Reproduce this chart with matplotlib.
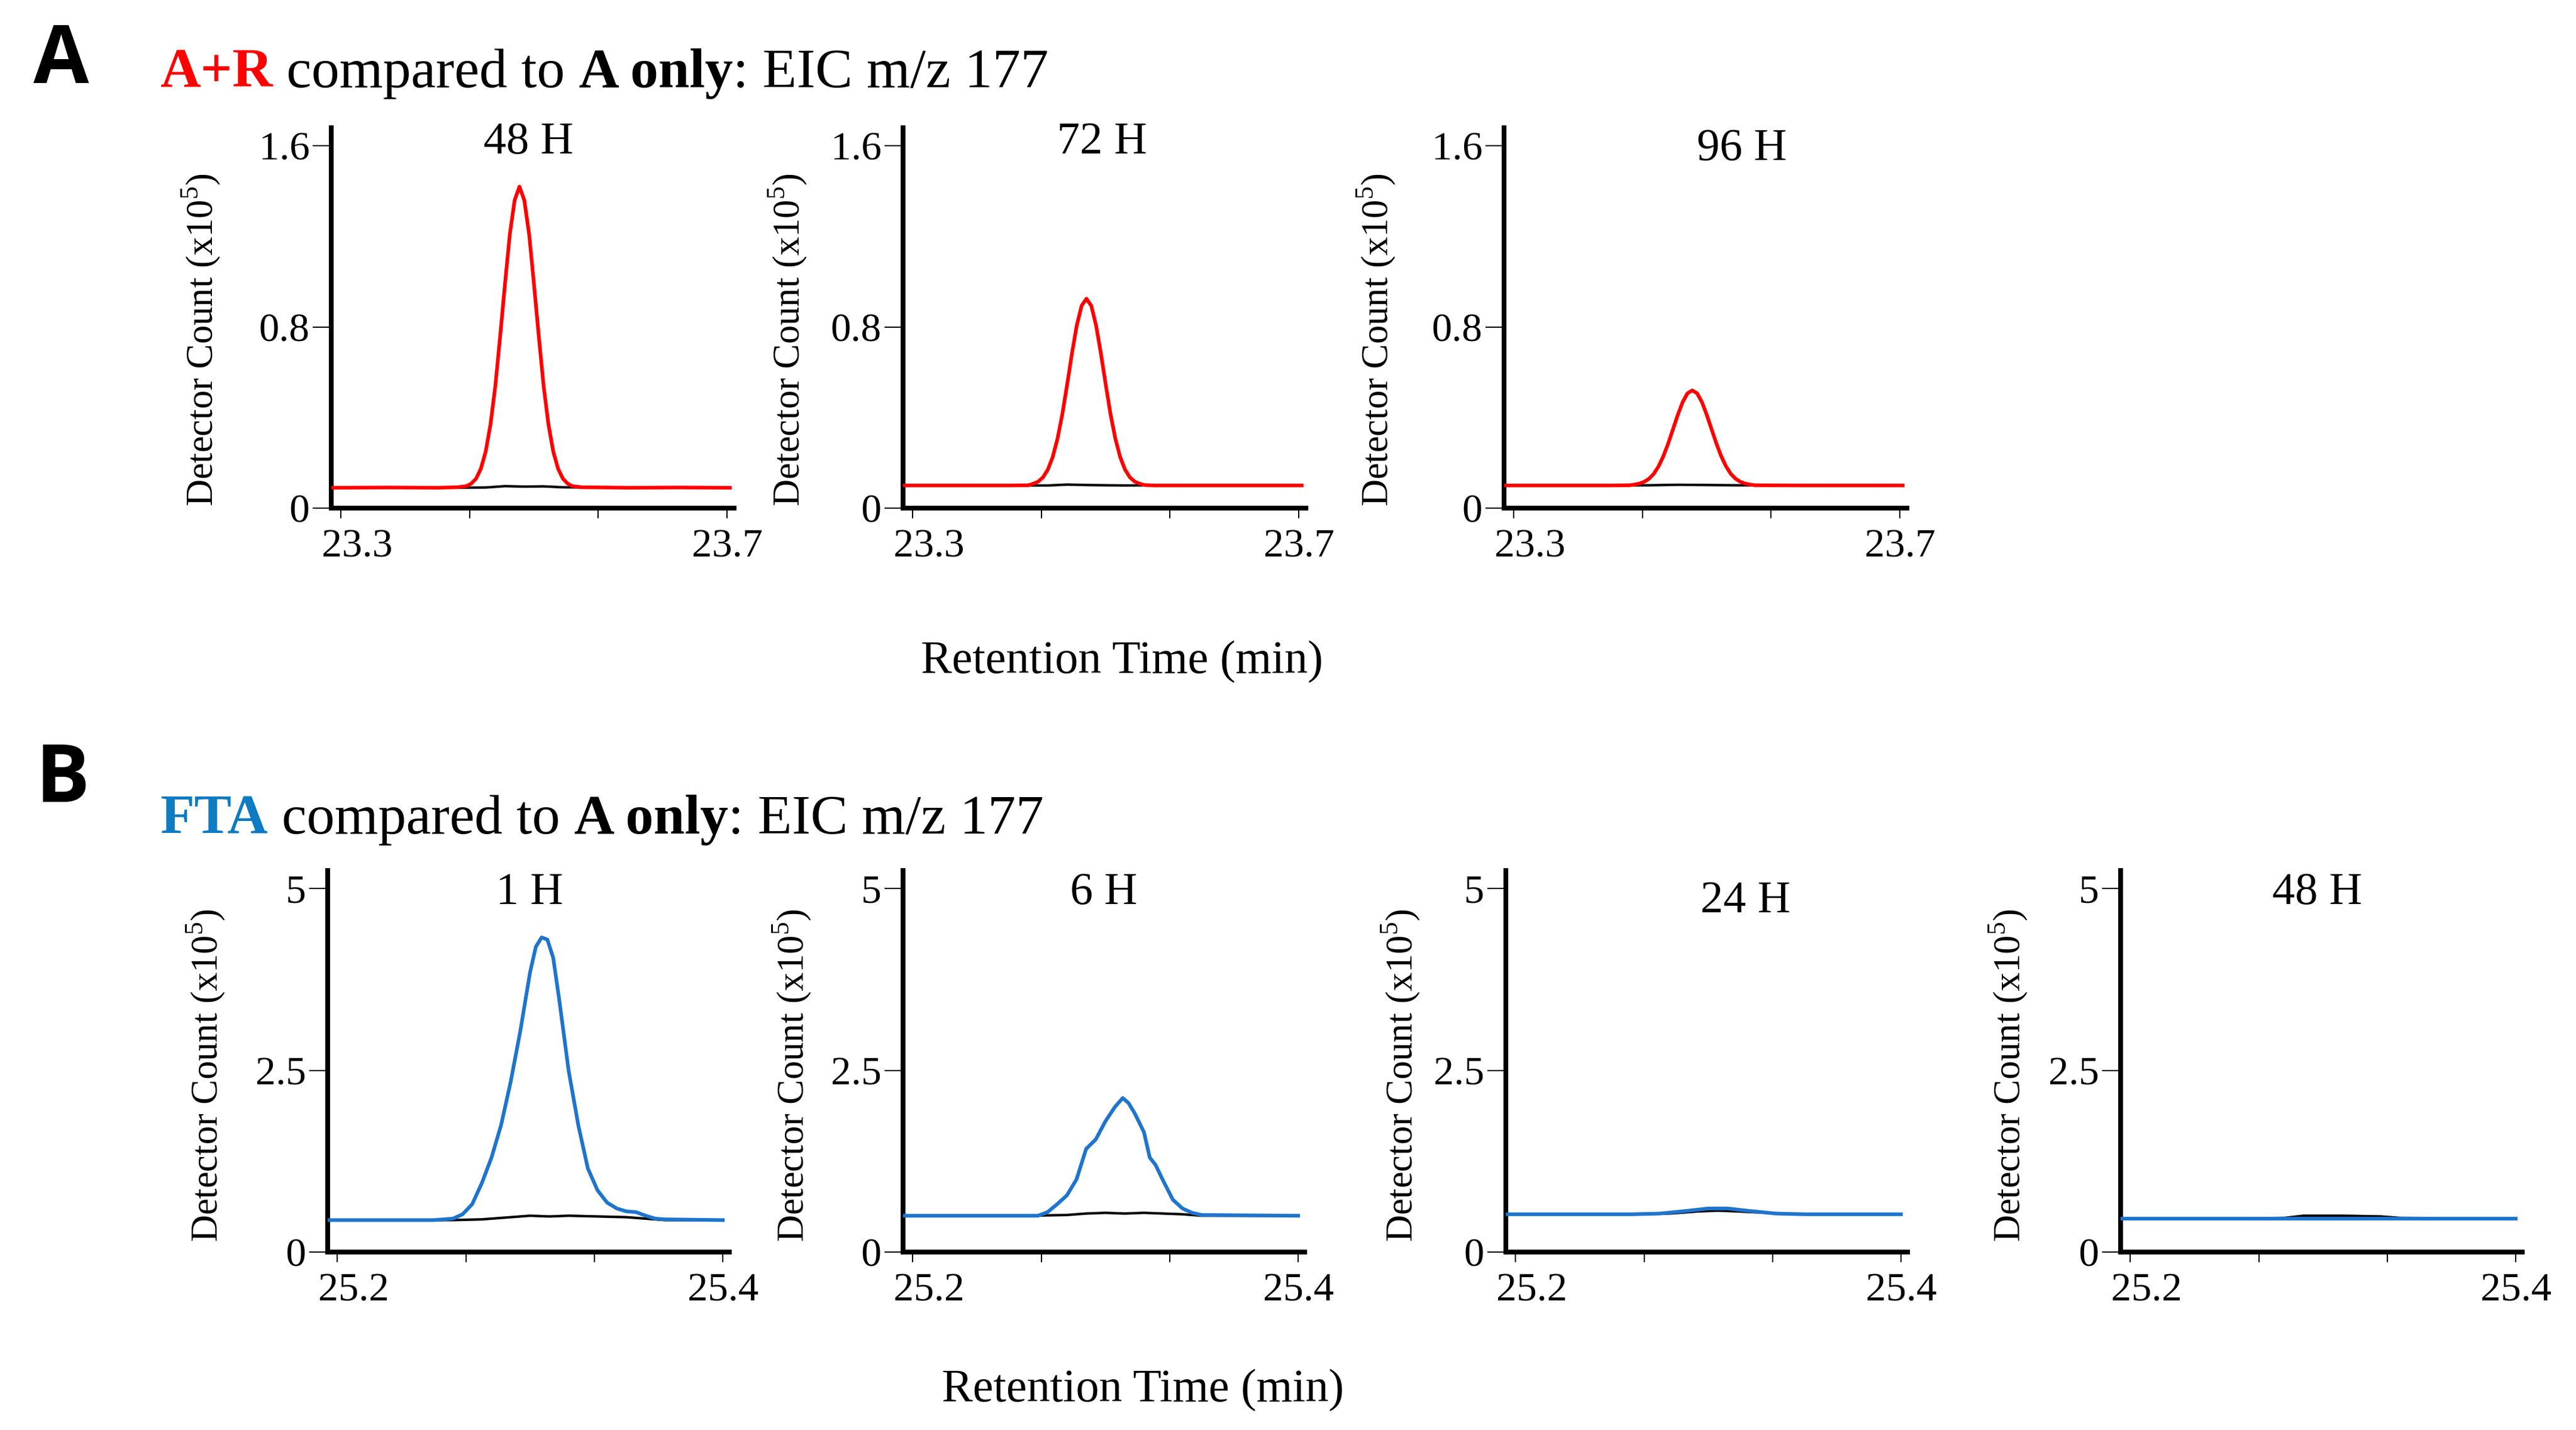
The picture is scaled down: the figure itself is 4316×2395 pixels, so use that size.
import matplotlib
matplotlib.use("Agg")
import matplotlib.pyplot as plt
import matplotlib.transforms as mtransforms

plt.rcParams['font.family'] = 'Liberation Serif'
plt.rcParams['mathtext.fontset'] = 'custom'
plt.rcParams['mathtext.rm'] = 'Liberation Serif'

# Datos (tiempo en min, cuenta en x10^5)
# Fila A: A+R (rojo) vs A sola (negro), EIC m/z 177
a_titulos = ["48 H", "72 H", "96 H"]

a1_rojo_x = [23.29, 23.35, 23.40, 23.42, 23.43, 23.435, 23.44, 23.445, 23.45, 23.455, 23.46, 23.465,
             23.47, 23.475, 23.48, 23.485, 23.49, 23.495, 23.50, 23.505, 23.51, 23.515, 23.52,
             23.525, 23.53, 23.535, 23.54, 23.55, 23.60, 23.65, 23.703]
a1_rojo_y = [0.09, 0.091, 0.09, 0.092, 0.097, 0.108, 0.13, 0.174, 0.25, 0.37, 0.54, 0.76,
             0.99, 1.21, 1.36, 1.42, 1.36, 1.21, 0.99, 0.76, 0.54, 0.37, 0.25,
             0.174, 0.13, 0.108, 0.097, 0.092, 0.09, 0.091, 0.09]
a1_negro_x = [23.29, 23.33, 23.37, 23.41, 23.45, 23.47, 23.49, 23.51, 23.53, 23.57, 23.61, 23.65, 23.703]
a1_negro_y = [0.092, 0.09, 0.092, 0.09, 0.091, 0.097, 0.095, 0.096, 0.092, 0.09, 0.091, 0.09, 0.09]

a2_rojo_x = [23.29, 23.35, 23.40, 23.42, 23.425, 23.43, 23.435, 23.44, 23.445, 23.45, 23.455, 23.46,
             23.465, 23.47, 23.475, 23.48, 23.485, 23.49, 23.495, 23.50, 23.505, 23.51, 23.515,
             23.52, 23.525, 23.53, 23.535, 23.54, 23.55, 23.60, 23.65, 23.703]
a2_rojo_y = [0.10, 0.10, 0.10, 0.101, 0.108, 0.117, 0.136, 0.170, 0.225, 0.306, 0.414, 0.545,
             0.683, 0.807, 0.894, 0.925, 0.894, 0.807, 0.683, 0.545, 0.414, 0.306, 0.225,
             0.170, 0.136, 0.117, 0.108, 0.102, 0.10, 0.10, 0.10, 0.10]
a2_negro_x = [23.29, 23.33, 23.37, 23.41, 23.44, 23.46, 23.48, 23.50, 23.52, 23.56, 23.60, 23.65, 23.703]
a2_negro_y = [0.102, 0.10, 0.101, 0.10, 0.10, 0.104, 0.102, 0.101, 0.10, 0.101, 0.10, 0.10, 0.101]

a3_rojo_x = [23.29, 23.35, 23.40, 23.42, 23.425, 23.43, 23.435, 23.44, 23.445, 23.45, 23.455, 23.46,
             23.465, 23.47, 23.475, 23.48, 23.485, 23.49, 23.495, 23.50, 23.505, 23.51, 23.515,
             23.52, 23.525, 23.53, 23.535, 23.54, 23.545, 23.55, 23.60, 23.65, 23.703]
a3_rojo_y = [0.10, 0.10, 0.10, 0.101, 0.104, 0.108, 0.116, 0.129, 0.151, 0.184, 0.229, 0.285,
             0.348, 0.412, 0.468, 0.507, 0.52, 0.507, 0.468, 0.412, 0.348, 0.285, 0.229,
             0.184, 0.151, 0.129, 0.116, 0.108, 0.104, 0.101, 0.10, 0.10, 0.10]
a3_negro_x = [23.29, 23.33, 23.37, 23.41, 23.44, 23.47, 23.50, 23.53, 23.56, 23.60, 23.65, 23.703]
a3_negro_y = [0.10, 0.101, 0.10, 0.10, 0.101, 0.103, 0.102, 0.101, 0.10, 0.10, 0.101, 0.10]

# Fila B: FTA (azul) vs A sola (negro)
b_titulos = ["1 H", "6 H", "24 H", "48 H"]

b1_azul_x = [25.195, 25.25, 25.26, 25.265, 25.27, 25.275, 25.28, 25.285, 25.29, 25.295, 25.30,
             25.303, 25.306, 25.309, 25.312, 25.315, 25.32, 25.325, 25.33, 25.335, 25.34, 25.345,
             25.35, 25.355, 25.36, 25.365, 25.37, 25.40]
b1_azul_y = [0.44, 0.44, 0.46, 0.52, 0.66, 0.95, 1.30, 1.75, 2.35, 3.05, 3.85,
             4.20, 4.33, 4.30, 4.05, 3.50, 2.50, 1.75, 1.15, 0.85, 0.68, 0.60,
             0.56, 0.55, 0.50, 0.46, 0.45, 0.44]
b1_negro_x = [25.195, 25.23, 25.26, 25.275, 25.29, 25.30, 25.31, 25.32, 25.335, 25.35, 25.36, 25.37, 25.40]
b1_negro_y = [0.44, 0.44, 0.44, 0.45, 0.48, 0.50, 0.49, 0.50, 0.49, 0.48, 0.46, 0.44, 0.44]

b2_azul_x = [25.195, 25.265, 25.27, 25.275, 25.28, 25.285, 25.29, 25.295, 25.30, 25.305, 25.309,
             25.312, 25.315, 25.32, 25.323, 25.326, 25.33, 25.335, 25.34, 25.345, 25.35, 25.40]
b2_azul_y = [0.50, 0.50, 0.55, 0.66, 0.78, 1.00, 1.42, 1.55, 1.80, 2.00, 2.12,
             2.05, 1.92, 1.65, 1.30, 1.20, 0.98, 0.72, 0.60, 0.54, 0.51, 0.50]
b2_negro_x = [25.195, 25.26, 25.28, 25.29, 25.30, 25.31, 25.32, 25.33, 25.34, 25.35, 25.40]
b2_negro_y = [0.50, 0.50, 0.51, 0.53, 0.54, 0.53, 0.54, 0.53, 0.52, 0.50, 0.50]

b3_azul_x = [25.195, 25.26, 25.275, 25.29, 25.30, 25.31, 25.32, 25.335, 25.35, 25.40]
b3_azul_y = [0.52, 0.52, 0.53, 0.57, 0.60, 0.60, 0.57, 0.53, 0.52, 0.52]
b3_negro_x = [25.195, 25.26, 25.28, 25.295, 25.305, 25.315, 25.33, 25.35, 25.40]
b3_negro_y = [0.52, 0.52, 0.53, 0.56, 0.57, 0.56, 0.54, 0.52, 0.52]

b4_azul_x = [25.195, 25.25, 25.30, 25.35, 25.40]
b4_azul_y = [0.46, 0.46, 0.46, 0.46, 0.46]
b4_negro_x = [25.195, 25.25, 25.28, 25.29, 25.31, 25.33, 25.34, 25.40]
b4_negro_y = [0.46, 0.46, 0.47, 0.50, 0.50, 0.49, 0.47, 0.46]

ROJO = "#FF0000"
AZUL = "#1F74CC"
AZUL_TEXTO = "#0E7BC2"

W, H = 4316, 2395
fig = plt.figure(figsize=(W / 100, H / 100), dpi=100)


def crear_panel(izq, arriba, ancho, alto, xlim, xticks, xlabels, ylim, yticks, ylabels,
                titulo, titulo_x, titulo_y, ylab_dx, ylab_y):
    ax = fig.add_axes([izq / W, 1 - (arriba + alto) / H, ancho / W, alto / H])
    for s in ["top", "right"]:
        ax.spines[s].set_visible(False)
    for s in ["left", "bottom"]:
        ax.spines[s].set_linewidth(5.8)
    ax.set_xlim(*xlim)
    ax.set_ylim(*ylim)
    ax.set_xticks(xticks)
    ax.set_xticklabels(xlabels)
    ax.set_yticks(yticks)
    ax.set_yticklabels(ylabels)
    ax.tick_params(axis="y", direction="out", length=22, width=1.5, pad=4, labelsize=49)
    ax.tick_params(axis="x", direction="out", length=12, width=1.5, pad=13, labelsize=49)
    # primera etiqueta del eje x desplazada a la derecha
    desplaz = mtransforms.ScaledTranslation(0.27, 0, fig.dpi_scale_trans)
    lab = ax.get_xticklabels()[0]
    lab.set_transform(lab.get_transform() + desplaz)
    ax.set_ylabel(r"Detector Count (x10$^{5}$)", fontsize=45)
    ax.yaxis.set_label_coords(ylab_dx / ancho, ylab_y)
    ax.text(titulo_x, titulo_y, titulo, transform=ax.transAxes, ha="center", va="center", fontsize=55)
    return ax


# Fila A
a_izq = [555, 1513, 2520]
a_tx = [0.49, 0.494, 0.59]
a_ty = [0.961, 0.961, 0.945]
a_ylab = [-183, -158, -179]
a_datos = [(a1_negro_x, a1_negro_y, a1_rojo_x, a1_rojo_y),
           (a2_negro_x, a2_negro_y, a2_rojo_x, a2_rojo_y),
           (a3_negro_x, a3_negro_y, a3_rojo_x, a3_rojo_y)]
for i in range(3):
    ax = crear_panel(a_izq[i], 214, 675, 637, (23.29, 23.7074), [23.3, 23.4333, 23.5667, 23.7],
                     ["23.3", "", "", "23.7"], (0, 1.68), [0, 0.8, 1.6], ["0", "0.8", "1.6"],
                     a_titulos[i], a_tx[i], a_ty[i], a_ylab[i], 0.442)
    nx, ny, cx, cy = a_datos[i]
    ax.plot(nx, ny, color="black", lw=3.0, zorder=2)
    ax.plot(cx, cy, color=ROJO, lw=4.4, zorder=3)

# Fila B
b_izq = [549, 1513, 2523, 3553]
b_tx = [0.503, 0.5, 0.596, 0.489]
b_ty = [0.942, 0.942, 0.92, 0.942]
b_ylab = [-169, -151, -141, -153]
b_datos = [(b1_negro_x, b1_negro_y, b1_azul_x, b1_azul_y),
           (b2_negro_x, b2_negro_y, b2_azul_x, b2_azul_y),
           (b3_negro_x, b3_negro_y, b3_azul_x, b3_azul_y),
           (b4_negro_x, b4_negro_y, b4_azul_x, b4_azul_y)]
for i in range(4):
    ax = crear_panel(b_izq[i], 1458, 673, 639, (25.195, 25.4034), [25.2, 25.2667, 25.3333, 25.4],
                     ["25.2", "", "", "25.4"], (0, 5.25), [0, 2.5, 5], ["0", "2.5", "5"],
                     b_titulos[i], b_tx[i], b_ty[i], b_ylab[i], 0.464)
    nx, ny, cx, cy = b_datos[i]
    ax.plot(nx, ny, color="black", lw=3.0, zorder=2)
    ax.plot(cx, cy, color=AZUL, lw=4.4, zorder=3, solid_joinstyle="round")

# Capa superior para textos en coordenadas de pixel
ov = fig.add_axes([0, 0, 1, 1])
ov.set_xlim(0, W)
ov.set_ylim(H, 0)
ov.axis("off")

ov.text(56, 139, "A", fontsize=97, fontweight="bold", family="Open Sans", va="baseline", ha="left")
ov.text(60, 1343, "B", fontsize=97, fontweight="bold", family="Open Sans", va="baseline", ha="left")


def titulo_compuesto(x, y, partes, fs):
    prev = ov.text(x, y, partes[0][0], color=partes[0][1], fontweight=partes[0][2],
                   fontsize=fs, va="baseline", ha="left")
    for texto, color, peso, hueco in partes[1:]:
        prev = ov.annotate(texto, xy=(1, 0), xycoords=prev, xytext=(hueco * fs, 0),
                           textcoords="offset points", color=color, fontweight=peso,
                           fontsize=fs, va="bottom", ha="left")


titulo_compuesto(268, 146, [("A+R", ROJO, "bold", 0),
                            ("compared to", "black", "normal", 0.25),
                            ("A only", "black", "bold", 0.25),
                            (": EIC m/z 177", "black", "normal", 0.0)], 67.5)
titulo_compuesto(268, 1396, [("FTA", AZUL_TEXTO, "bold", 0),
                             ("compared to", "black", "normal", 0.25),
                             ("A only", "black", "bold", 0.25),
                             (": EIC m/z 177", "black", "normal", 0.0)], 67.5)

ov.text(1880, 1109, "Retention Time (min)", fontsize=56, ha="center", va="center")
ov.text(1915, 2329, "Retention Time (min)", fontsize=56, ha="center", va="center")

fig.savefig("out.png", dpi=100)
